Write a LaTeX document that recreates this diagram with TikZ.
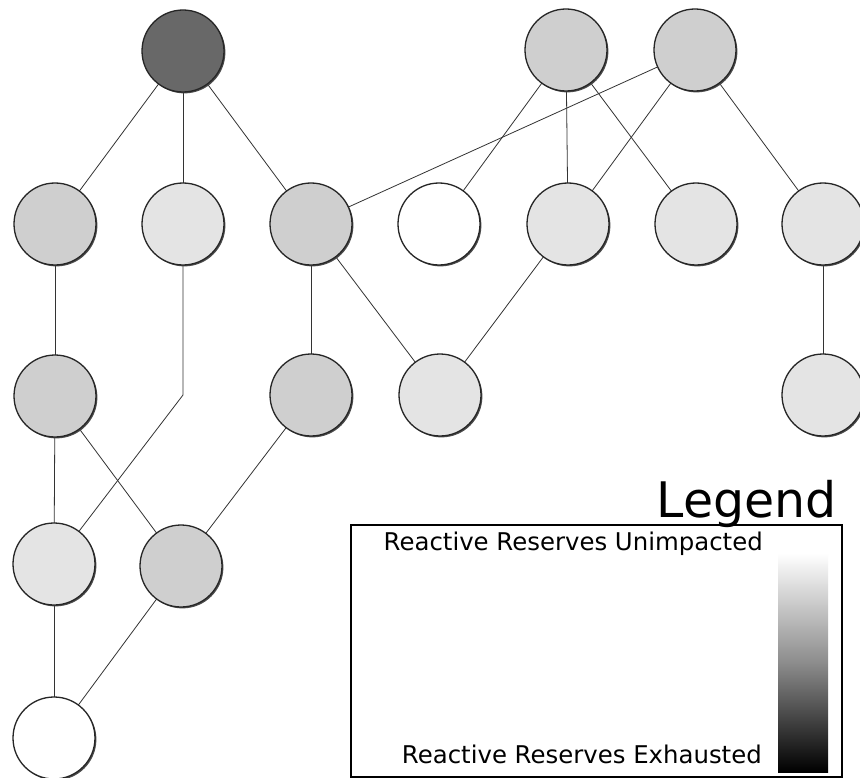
\documentclass[tikz,border=0pt]{standalone}
\usepackage{fontspec}
\setmainfont{DejaVu Sans}
\usetikzlibrary{shadows,backgrounds}
\definecolor{gA}{HTML}{686868}
\definecolor{gM}{HTML}{CFCFCF}
\definecolor{gL}{HTML}{E4E4E4}
\tikzset{
  bus/.style={circle, draw=black!85, line width=1.3pt, minimum size=82pt, inner sep=0pt,
    drop shadow={shadow xshift=1.4pt, shadow yshift=-1.4pt, fill=black!70, opacity=1}},
  link/.style={draw=black!80, line width=0.8pt},
}
\begin{document}
\begin{tikzpicture}[x=1pt,y=-1pt]
\useasboundingbox (0,0) rectangle (860,778);
% row 1
\node[bus, fill=gA] (a1) at (183,51) {};
\node[bus, fill=gM] (a2) at (566,50) {};
\node[bus, fill=gM] (a3) at (695,50) {};
% row 2
\node[bus, fill=gM] (b1) at (55,224) {};
\node[bus, fill=gL] (b2) at (183,224) {};
\node[bus, fill=gM] (b3) at (311,224) {};
\node[bus, fill=white] (b4) at (439,224) {};
\node[bus, fill=gL] (b5) at (568,224) {};
\node[bus, fill=gL] (b6) at (696,224) {};
\node[bus, fill=gL] (b7) at (823,224) {};
% row 3
\node[bus, fill=gM] (c1) at (55,396) {};
\node[bus, fill=gM] (c2) at (311,395) {};
\node[bus, fill=gL] (c3) at (440,395) {};
\node[bus, fill=gL] (c4) at (823,395) {};
% row 4
\node[bus, fill=gL] (d1) at (54,564) {};
\node[bus, fill=gM] (d2) at (181,566) {};
% row 5
\node[bus, fill=white] (e1) at (54,738) {};
\coordinate (bend) at (183,395);
\begin{scope}[on background layer]
\fill[white] (0,0) rectangle (860,778);
\draw[link] (a1.center) -- (b1.center);
\draw[link] (a1.center) -- (b2.center);
\draw[link] (a1.center) -- (b3.center);
\draw[link] (a2.center) -- (b4.center);
\draw[link] (a2.center) -- (b5.center);
\draw[link] (a2.center) -- (b6.center);
\draw[link] (a3.center) -- (b3.center);
\draw[link] (a3.center) -- (b5.center);
\draw[link] (a3.center) -- (b7.center);
\draw[link] (b1.center) -- (c1.center);
\draw[link] (b2.center) -- (bend) -- (d1.center);
\draw[link] (b3.center) -- (c2.center);
\draw[link] (b3.center) -- (c3.center);
\draw[link] (b5.center) -- (c3.center);
\draw[link] (b7.center) -- (c4.center);
\draw[link] (c1.center) -- (d1.center);
\draw[link] (c1.center) -- (d2.center);
\draw[link] (c2.center) -- (d2.center);
\draw[link] (d1.center) -- (e1.center);
\draw[link] (d2.center) -- (e1.center);
\end{scope}
% legend
\node[anchor=base east, font=\fontsize{49}{50}\selectfont, inner sep=0pt] (lgt) at (837,517) {Legend};
\node[draw=black, line width=2pt, minimum width=491pt, minimum height=252pt, anchor=north west, inner sep=0pt] (lgbox) at (350,524) {};
\node[anchor=base east, font=\fontsize{24.4}{26}\selectfont, inner sep=0pt] (ltop) at (763,550) {Reactive Reserves Unimpacted};
\node[anchor=base east, font=\fontsize{24.4}{26}\selectfont, inner sep=0pt] (lbot) at (762,763) {Reactive Reserves Exhausted};
\shade[top color=white, bottom color=black, middle color=black!45] (778,553) rectangle (828,772);
\end{tikzpicture}
\end{document}
